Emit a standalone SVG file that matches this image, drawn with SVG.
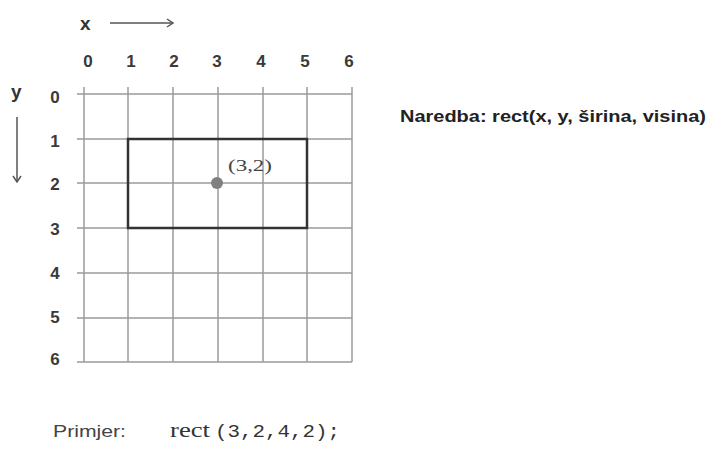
<svg xmlns="http://www.w3.org/2000/svg" width="709" height="454" viewBox="0 0 709 454">
<style>
.grid{stroke:#9a9a9a;stroke-width:1.5;fill:none}
.lbl{font-family:"Liberation Sans",Arial,sans-serif;font-weight:bold;font-size:17px;fill:#3a3a3a;text-anchor:middle}
.axis{font-family:"Liberation Sans",Arial,sans-serif;font-weight:bold;font-size:19px;fill:#333}
.arr{stroke:#555;stroke-width:1.5;fill:none}
</style>
<defs>
<marker id="ah" markerWidth="10" markerHeight="10" refX="8" refY="5" orient="auto" markerUnits="userSpaceOnUse">
<path d="M2,1 L8,5 L2,9" fill="none" stroke="#555" stroke-width="1.5"/>
</marker>
</defs>
<rect width="709" height="454" fill="#fff"/>
<g id="axes">
<text class="axis" x="80" y="30">x</text>
<line class="arr" x1="110" y1="23" x2="173" y2="23" marker-end="url(#ah)"/>
<text class="axis" x="11" y="98">y</text>
<line class="arr" x1="17" y1="117" x2="17" y2="182" marker-end="url(#ah)"/>
</g>
<g id="grid">
<path class="grid" d="M84,87V362M128,87V362M173,87V362M218,87V362M263,87V362M307,87V362M352,87V362"/>
<path class="grid" d="M77,94H352M77,139H352M77,183H352M77,228H352M77,273H352M77,318H352M77,362H352"/>
</g>
<g id="col-labels">
<text class="lbl" x="88" y="67">0</text>
<text class="lbl" x="131" y="67">1</text>
<text class="lbl" x="174" y="67">2</text>
<text class="lbl" x="217" y="67">3</text>
<text class="lbl" x="261" y="67">4</text>
<text class="lbl" x="305" y="67">5</text>
<text class="lbl" x="349" y="67">6</text>
</g>
<g id="row-labels">
<text class="lbl" x="55" y="103">0</text>
<text class="lbl" x="55" y="147">1</text>
<text class="lbl" x="55" y="190">2</text>
<text class="lbl" x="55" y="235">3</text>
<text class="lbl" x="55" y="279">4</text>
<text class="lbl" x="55" y="323">5</text>
<text class="lbl" x="55" y="365">6</text>
</g>
<g id="rectangle">
<rect x="128" y="139" width="179" height="89" fill="none" stroke="#333" stroke-width="2.5"/>
</g>
<g id="point">
<circle cx="217" cy="183" r="6" fill="#808080"/>
<text x="228" y="171" font-family="Liberation Serif,'Times New Roman',serif" font-size="17" fill="#444" textLength="44" lengthAdjust="spacingAndGlyphs">(3,2)</text>
</g>
<g id="command">
<text x="400" y="122" font-family="Liberation Sans,Arial,sans-serif" font-weight="bold" font-size="17" fill="#222" textLength="306" lengthAdjust="spacingAndGlyphs">Naredba: rect(x, y, širina, visina)</text>
</g>
<g id="example">
<text x="53" y="437" font-family="Liberation Sans,Arial,sans-serif" font-size="17" fill="#444" textLength="73" lengthAdjust="spacingAndGlyphs">Primjer:</text>
<text x="170" y="437" font-family="Liberation Serif,'Times New Roman',serif" font-size="20" fill="#333" textLength="40" lengthAdjust="spacingAndGlyphs">rect</text>
<text x="215" y="437" font-family="Liberation Mono,'Courier New',monospace" font-size="18" fill="#333" textLength="125" lengthAdjust="spacingAndGlyphs">(3,2,4,2);</text>
</g>
</svg>
